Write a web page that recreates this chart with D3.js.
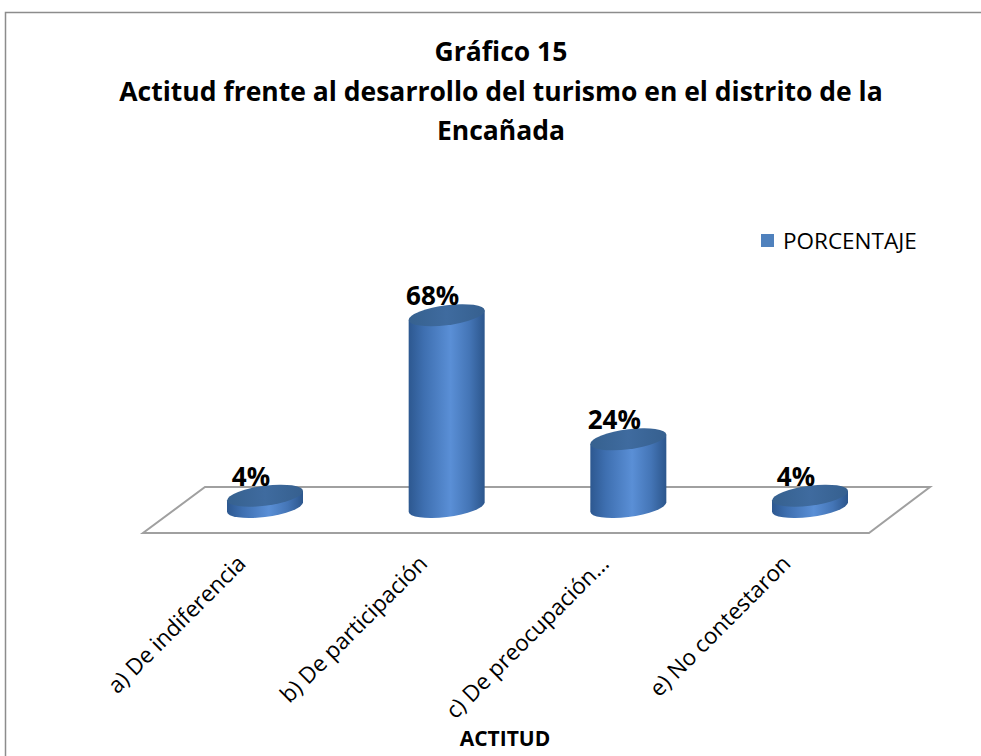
<!DOCTYPE html>
<html>
<head>
<meta charset="utf-8">
<script src="https://cdn.jsdelivr.net/npm/d3@7"></script>
<style>
  body { margin: 0; background: #fff; }
  svg { display: block; font-family: "Open Sans", Lato, sans-serif; }
</style>
</head>
<body>
<div id="chart"></div>
<script>
// Chart data
const categories = ['a) De indiferencia', 'b) De participación', 'c) De preocupación…', 'e) No contestaron'];
const values = [4, 68, 24, 4];
const seriesName = 'PORCENTAJE';
const titleLines = ['Gráfico 15', 'Actitud frente al desarrollo del turismo en el distrito de la', 'Encañada'];
const axisTitle = 'ACTITUD';

const width = 981;
const height = 756;

const svg = d3.select('#chart')
  .append('svg')
  .attr('width', width)
  .attr('height', height);

// Outer chart frame (runs off the right and bottom edges)
svg.append('rect')
  .attr('x', 5.5).attr('y', 12.5)
  .attr('width', 1000).attr('height', 800)
  .attr('fill', 'none')
  .attr('stroke', '#8c8c8c')
  .attr('stroke-width', 1.5);

// Gradients for the cylinders
const defs = svg.append('defs');
const sideGrad = defs.append('linearGradient').attr('id', 'cylSide')
  .attr('x1', '0%').attr('x2', '100%').attr('y1', '0%').attr('y2', '0%');
[['0%', '#2d5890'], ['20%', '#3e6fb0'], ['55%', '#5a8fd6'], ['80%', '#4475b6'], ['100%', '#2c568c']]
  .forEach(([o, c]) => sideGrad.append('stop').attr('offset', o).attr('stop-color', c));
const capGrad = defs.append('linearGradient').attr('id', 'cylTop')
  .attr('x1', '0%').attr('x2', '100%').attr('y1', '0%').attr('y2', '0%');
[['0%', '#36618f'], ['50%', '#3f6b9f'], ['100%', '#36608f']]
  .forEach(([o, c]) => capGrad.append('stop').attr('offset', o).attr('stop-color', c));

// Scales
const x = d3.scalePoint()
  .domain(categories)
  .range([265, 810]);

const baseY = 507;
const y = d3.scaleLinear()
  .domain([0, 100])
  .range([baseY, baseY - 282]);

// Floor (3D plot floor)
const floor = [[205, 487], [930, 487], [869, 533], [143, 533]];
svg.append('path')
  .attr('d', d3.line()(floor) + 'Z')
  .attr('fill', '#fff')
  .attr('stroke', '#a0a0a0')
  .attr('stroke-width', 2);

// Cylinders
const rx = 38, ry = 10;
const skew = -7;

const bars = svg.append('g')
  .selectAll('g')
  .data(categories.map((c, i) => ({ c, v: values[i] })))
  .join('g')
  .attr('transform', d => `translate(${x(d.c)},0) skewY(${skew})`);

bars.append('path')
  .attr('d', d => {
    const yt = y(d.v);
    return `M${-rx},${yt} L${-rx},${baseY} A${rx},${ry} 0 0 0 ${rx},${baseY} L${rx},${yt} Z`;
  })
  .attr('fill', 'url(#cylSide)');

bars.append('ellipse')
  .attr('cx', 0)
  .attr('cy', d => y(d.v))
  .attr('rx', rx)
  .attr('ry', ry)
  .attr('fill', 'url(#cylTop)');

// Value labels
svg.append('g')
  .selectAll('text')
  .data(categories.map((c, i) => ({ c, v: values[i] })))
  .join('text')
  .attr('x', d => x(d.c) - 14)
  .attr('y', d => y(d.v) - 10)
  .attr('text-anchor', 'middle')
  .attr('font-size', 26)
  .attr('font-weight', 'bold')
  .attr('fill', '#000')
  .text(d => `${d.v}%`);

// Category labels, rotated
svg.append('g')
  .selectAll('text')
  .data(categories)
  .join('text')
  .attr('transform', d => `translate(${x(d) - 18},565) rotate(-45)`)
  .attr('text-anchor', 'end')
  .attr('font-size', 22.5)
  .attr('fill', '#000')
  .text(d => d);

// Title
svg.append('g')
  .selectAll('text')
  .data(titleLines)
  .join('text')
  .attr('x', 501)
  .attr('y', (d, i) => [61, 101, 140][i])
  .attr('text-anchor', 'middle')
  .attr('font-size', 26.5)
  .attr('font-weight', 'bold')
  .attr('fill', '#000')
  .text(d => d);

// Legend
svg.append('rect')
  .attr('x', 761).attr('y', 234)
  .attr('width', 13).attr('height', 13)
  .attr('fill', '#4f81bd');
svg.append('text')
  .attr('x', 783).attr('y', 249)
  .attr('font-size', 22.5)
  .attr('fill', '#000')
  .text(seriesName);

// Axis title
svg.append('text')
  .attr('x', 505).attr('y', 746)
  .attr('text-anchor', 'middle')
  .attr('font-size', 21)
  .attr('font-weight', 'bold')
  .attr('fill', '#000')
  .text(axisTitle);
</script>
</body>
</html>
